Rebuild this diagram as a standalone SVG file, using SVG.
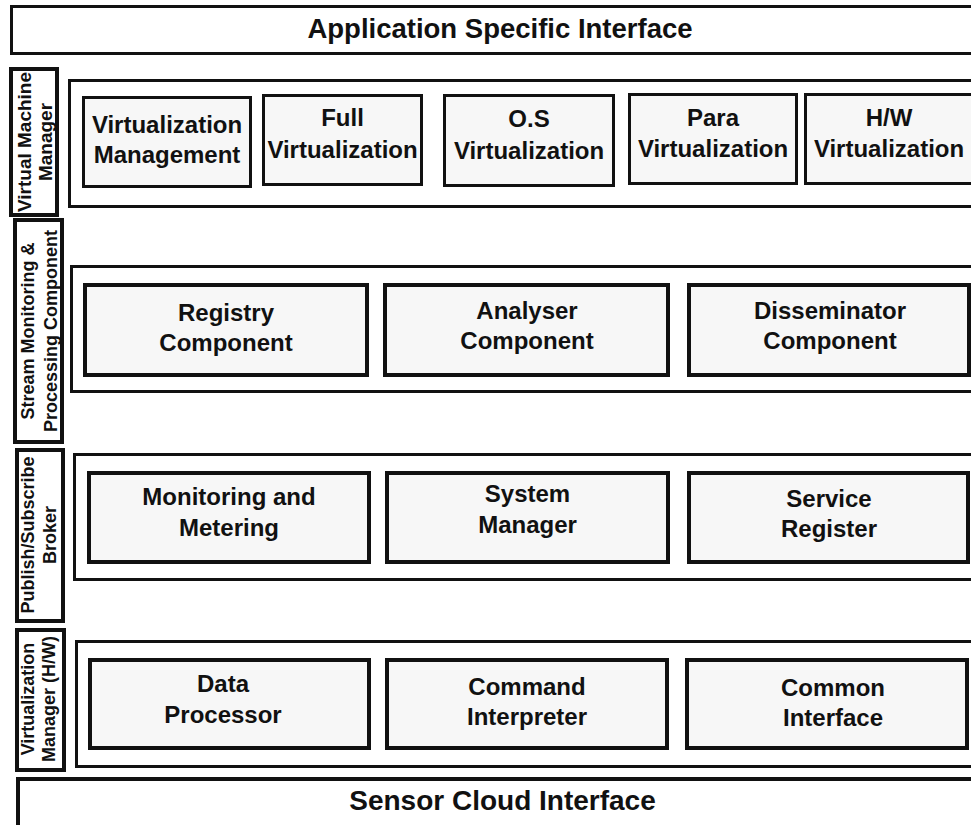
<svg xmlns="http://www.w3.org/2000/svg" width="971" height="825" viewBox="0 0 971 825">
  <style>
    .band { fill: #ffffff; stroke: #111111; stroke-width: 3; }
    .tray { fill: #ffffff; stroke: #111111; stroke-width: 3; }
    .side { fill: #ffffff; stroke: #111111; stroke-width: 4; }
    .unit { fill: #f7f7f7; stroke: #111111; stroke-width: 4; }
    .unit-thin { fill: #f7f7f7; stroke: #111111; stroke-width: 3; }
    text { font-family: "Liberation Sans", Arial, Helvetica, sans-serif; font-weight: bold; fill: #111111; text-anchor: middle; }
    .big { font-size: 27.5px; }
    .lbl { font-size: 24px; }
    .vlbl { font-size: 18px; }
  </style>

  <!-- top band -->
  <g id="app-interface">
    <rect class="band" x="11.5" y="6.5" width="980" height="47"/>
    <text class="big" x="500" y="38">Application Specific Interface</text>
  </g>

  <!-- layer 1: virtual machine manager -->
  <g id="vmm-label">
    <rect class="side" x="11" y="69" width="46" height="146"/>
    <text class="vlbl" style="font-size:19px" transform="translate(31,142) rotate(-90)">Virtual Machine</text>
    <text class="vlbl" style="font-size:19px" transform="translate(52,142) rotate(-90)">Manager</text>
  </g>
  <g id="vmm-tray">
    <rect class="tray" x="69.5" y="80.5" width="920" height="126"/>
  </g>
  <g id="virt-management">
    <rect class="unit-thin" x="83.5" y="97.5" width="167" height="89"/>
    <text class="lbl" x="167" y="133">Virtualization</text>
    <text class="lbl" x="167" y="163">Management</text>
  </g>
  <g id="full-virt">
    <rect class="unit-thin" x="263.5" y="95.5" width="158" height="89"/>
    <text class="lbl" x="342.5" y="126">Full</text>
    <text class="lbl" x="342.5" y="158">Virtualization</text>
  </g>
  <g id="os-virt">
    <rect class="unit-thin" x="444.5" y="95.5" width="169" height="90"/>
    <text class="lbl" x="529" y="127">O.S</text>
    <text class="lbl" x="529" y="159">Virtualization</text>
  </g>
  <g id="para-virt">
    <rect class="unit-thin" x="629.5" y="94.5" width="167" height="89"/>
    <text class="lbl" x="713" y="126">Para</text>
    <text class="lbl" x="713" y="157">Virtualization</text>
  </g>
  <g id="hw-virt">
    <rect class="unit-thin" x="805.5" y="94.5" width="180" height="89"/>
    <text class="lbl" x="889" y="126">H/W</text>
    <text class="lbl" x="889" y="157">Virtualization</text>
  </g>

  <!-- layer 2: stream monitoring & processing -->
  <g id="smpc-label">
    <rect class="side" x="15" y="220" width="47" height="222"/>
    <text class="vlbl" transform="translate(34,331) rotate(-90)">Stream Monitoring &amp;</text>
    <text class="vlbl" transform="translate(57,331) rotate(-90)">Processing Component</text>
  </g>
  <g id="smpc-tray">
    <rect class="tray" x="71.5" y="266.5" width="920" height="125"/>
  </g>
  <g id="registry">
    <rect class="unit" x="85" y="285" width="282" height="90"/>
    <text class="lbl" x="226" y="321">Registry</text>
    <text class="lbl" x="226" y="351">Component</text>
  </g>
  <g id="analyser">
    <rect class="unit" x="385" y="285" width="283" height="90"/>
    <text class="lbl" x="527" y="319">Analyser</text>
    <text class="lbl" x="527" y="349">Component</text>
  </g>
  <g id="disseminator">
    <rect class="unit" x="689" y="285" width="280" height="90"/>
    <text class="lbl" x="830" y="319">Disseminator</text>
    <text class="lbl" x="830" y="349">Component</text>
  </g>

  <!-- layer 3: publish/subscribe broker -->
  <g id="broker-label">
    <rect class="side" x="17" y="450" width="46" height="171"/>
    <text class="vlbl" transform="translate(34,535) rotate(-90)">Publish/Subscribe</text>
    <text class="vlbl" transform="translate(56,535) rotate(-90)">Broker</text>
  </g>
  <g id="broker-tray">
    <rect class="tray" x="74.5" y="454.5" width="920" height="125"/>
  </g>
  <g id="monitoring">
    <rect class="unit" x="89" y="473" width="280" height="89"/>
    <text class="lbl" x="229" y="505">Monitoring and</text>
    <text class="lbl" x="229" y="536">Metering</text>
  </g>
  <g id="system-manager">
    <rect class="unit" x="387" y="473" width="281" height="89"/>
    <text class="lbl" x="527.5" y="502">System</text>
    <text class="lbl" x="527.5" y="533">Manager</text>
  </g>
  <g id="service-register">
    <rect class="unit" x="689" y="473" width="279" height="89"/>
    <text class="lbl" x="829" y="507">Service</text>
    <text class="lbl" x="829" y="537">Register</text>
  </g>

  <!-- layer 4: hardware virtualization manager -->
  <g id="hw-manager-label">
    <rect class="side" x="17" y="630" width="47" height="140"/>
    <text class="vlbl" transform="translate(34,699) rotate(-90)">Virtualization</text>
    <text class="vlbl" transform="translate(55,699) rotate(-90)">Manager (H/W)</text>
  </g>
  <g id="hw-manager-tray">
    <rect class="tray" x="76.5" y="641.5" width="920" height="125"/>
  </g>
  <g id="data-processor">
    <rect class="unit" x="90" y="660" width="279" height="88"/>
    <text class="lbl" x="223" y="692">Data</text>
    <text class="lbl" x="223" y="723">Processor</text>
  </g>
  <g id="command-interpreter">
    <rect class="unit" x="387" y="660" width="280" height="88"/>
    <text class="lbl" x="527" y="695">Command</text>
    <text class="lbl" x="527" y="725">Interpreter</text>
  </g>
  <g id="common-interface">
    <rect class="unit" x="687" y="660" width="280" height="88"/>
    <text class="lbl" x="833" y="696">Common</text>
    <text class="lbl" x="833" y="726">Interface</text>
  </g>

  <!-- bottom band -->
  <g id="sensor-interface">
    <rect class="band" x="18" y="779" width="980" height="60" style="stroke-width:4"/>
    <text class="big" style="font-size:28px" x="502.5" y="810">Sensor Cloud Interface</text>
  </g>

  <!-- the layers are stacked, no connectors are drawn -->
  <g id="connectors"/>
</svg>
